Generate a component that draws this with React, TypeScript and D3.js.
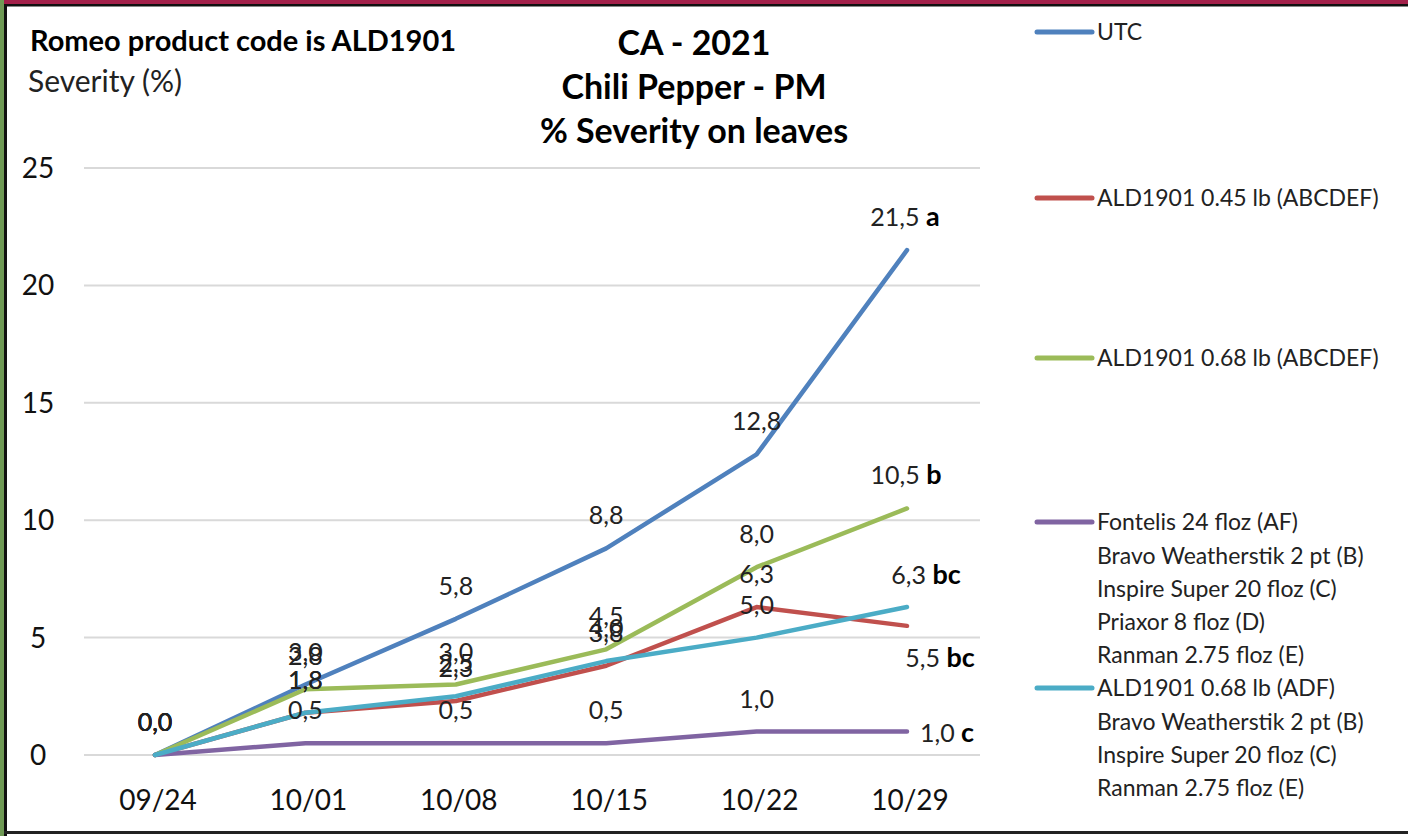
import React from "react";
import * as d3 from "d3";

const dates = ["09/24", "10/01", "10/08", "10/15", "10/22", "10/29"];
const yTicks = [0, 5, 10, 15, 20, 25];

const utc = [0, 3.0, 5.8, 8.8, 12.8, 21.5];
const ald045 = [0, 1.8, 2.3, 3.8, 6.3, 5.5];
const ald068 = [0, 2.8, 3.0, 4.5, 8.0, 10.5];
const fontelis = [0, 0.5, 0.5, 0.5, 1.0, 1.0];
const ald068adf = [0, 1.8, 2.5, 4.0, 5.0, 6.3];

const seriesNames = ["UTC", "ALD1901 0.45 lb (ABCDEF)", "ALD1901 0.68 lb (ABCDEF)", "Fontelis 24 floz (AF)", "ALD1901 0.68 lb (ADF)"];
const seriesExtra = [
  [],
  [],
  [],
  ["Bravo Weatherstik 2 pt (B)", "Inspire Super 20 floz (C)", "Priaxor 8 floz (D)", "Ranman 2.75 floz (E)"],
  ["Bravo Weatherstik 2 pt (B)", "Inspire Super 20 floz (C)", "Ranman 2.75 floz (E)"],
];
const letters = ["a", "bc", "b", "c", "bc"];

const colors = ["#4f81bd", "#c0504d", "#9bbb59", "#8064a2", "#4bacc6"];
const drawOrder = [0, 1, 2, 3, 4];
const lastPlacement = [
  { dx: -2, dy: -33, anchor: "middle" },
  { dx: 33, dy: 32, anchor: "middle" },
  { dx: -1, dy: -33, anchor: "middle" },
  { dx: 13, dy: 1, anchor: "start" },
  { dx: 19, dy: -32, anchor: "middle" },
];

const W = 1408;
const H = 836;
const FONT = "Lato, 'Open Sans', sans-serif";

const locale = d3.formatLocale({ decimal: ",", thousands: ".", grouping: [3], currency: ["", ""] });
const fmt = locale.format(".1f");

export default function App() {
  const all = [utc, ald045, ald068, fontelis, ald068adf];
  const x = d3.scalePoint<string>().domain(dates).range([155, 907]);
  const y = d3.scaleLinear().domain([0, 25]).range([755, 168]);
  const line = d3
    .line<number>()
    .x((_, i) => x(dates[i]) as number)
    .y((d) => y(d));

  const legendY = [32, 198, 358, 522, 688];
  const legendStep = 33.3;

  return (
    <svg
      width={W}
      height={H}
      style={{ position: "absolute", left: 0, top: 0, background: "#fff" }}
      fontFamily={FONT}
    >
      <rect x={0} y={0} width={W} height={H} fill="#fff" />
      <rect x={0} y={0} width={W} height={4} fill="#a3214b" />
      <rect x={0} y={4} width={W} height={2.5} fill="#111" />
      <rect x={0} y={0} width={4} height={H} fill="#6f9a55" />
      <rect x={4} y={4} width={3} height={H} fill="#111" />
      <rect x={4} y={831} width={W} height={3} fill="#222" />

      <text x={30} y={51} fontSize={29} fontWeight="bold" fill="#000">
        Romeo product code is ALD1901
      </text>
      <text x={28} y={92} fontSize={30} fill="#222">
        Severity (%)
      </text>

      <g fontSize={34} fontWeight="bold" textAnchor="middle" fill="#000">
        <text x={694} y={55}>CA - 2021</text>
        <text x={694} y={99}>Chili Pepper - PM</text>
        <text x={694} y={143}>% Severity on leaves</text>
      </g>

      {yTicks.map((t) => (
        <g key={t}>
          <line x1={84} x2={980} y1={y(t)} y2={y(t)} stroke="#d9d9d9" strokeWidth={2} />
          <text x={38} y={y(t)} dy="0.36em" textAnchor="middle" fontSize={28} fill="#111">
            {t}
          </text>
        </g>
      ))}

      {dates.map((d) => (
        <text key={d} x={(x(d) as number) + 3} y={800} dy="0.36em" textAnchor="middle" fontSize={28} fill="#111">
          {d}
        </text>
      ))}

      {drawOrder.map((si) => (
        <path
          key={si}
          d={line(all[si]) as string}
          fill="none"
          stroke={colors[si]}
          strokeWidth={4.5}
          strokeLinejoin="round"
          strokeLinecap="round"
        />
      ))}

      {all.map((vals, si) =>
        vals.map((v, i) => {
          const px = x(dates[i]) as number;
          const py = y(v);
          if (i === vals.length - 1) {
            const p = lastPlacement[si];
            return (
              <text
                key={si + "-" + i}
                x={px + p.dx}
                y={py + p.dy}
                dy="0.36em"
                textAnchor={p.anchor}
                fontSize={25}
                fill="#222"
              >
                {fmt(v)}{" "}
                <tspan fontWeight="bold" fontSize={27} fill="#000">
                  {letters[si]}
                </tspan>
              </text>
            );
          }
          return (
            <text key={si + "-" + i} x={px} y={py - 33} dy="0.36em" textAnchor="middle" fontSize={25} fill="#222">
              {fmt(v)}
            </text>
          );
        })
      )}

      {seriesNames.map((name, si) => (
        <g key={name}>
          <line
            x1={1037}
            x2={1092}
            y1={legendY[si]}
            y2={legendY[si]}
            stroke={colors[si]}
            strokeWidth={5}
            strokeLinecap="round"
          />
          <text x={1097} y={legendY[si]} dy="0.36em" fontSize={23} fill="#222">
            {name}
          </text>
          {seriesExtra[si].map((t, k) => (
            <text key={t} x={1097} y={legendY[si] + legendStep * (k + 1)} dy="0.36em" fontSize={23} fill="#222">
              {t}
            </text>
          ))}
        </g>
      ))}
    </svg>
  );
}
